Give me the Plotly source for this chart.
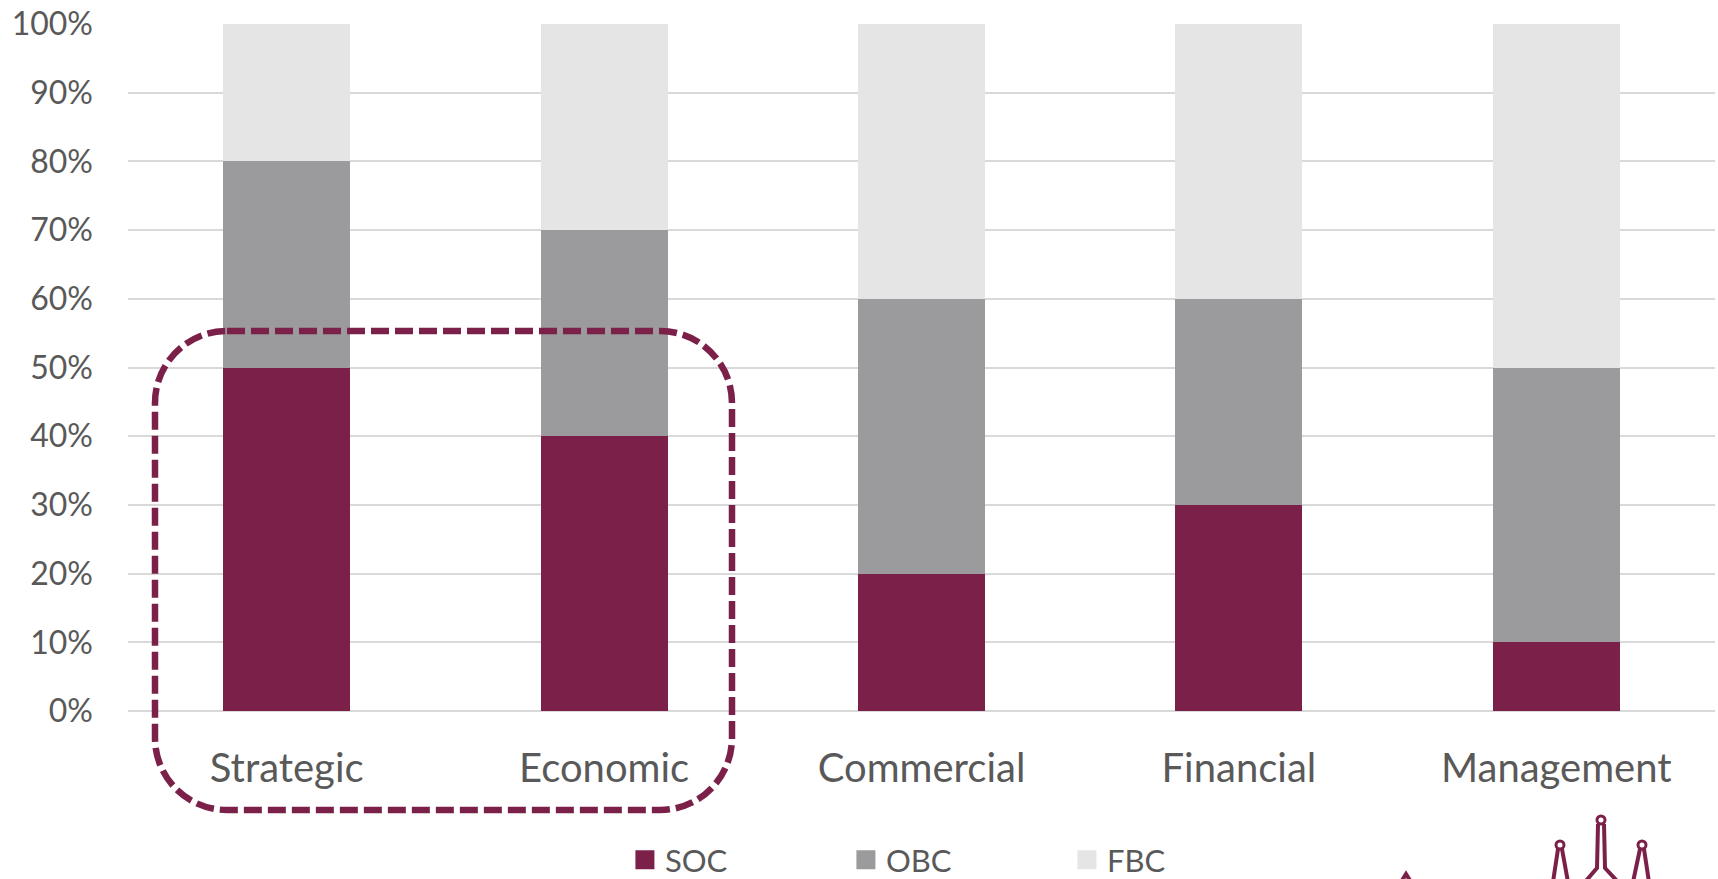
import plotly.graph_objects as go

categories = ["Strategic", "Economic", "Commercial", "Financial", "Management"]
soc = [0.50, 0.40, 0.20, 0.30, 0.10]
obc = [0.30, 0.30, 0.40, 0.30, 0.40]
fbc = [0.20, 0.30, 0.40, 0.40, 0.50]
series_names = ["SOC", "OBC", "FBC"]
tick_vals = [0, 0.1, 0.2, 0.3, 0.4, 0.5, 0.6, 0.7, 0.8, 0.9, 1.0]

colors = ["#7B2149", "#9B9B9D", "#E5E5E5"]
FONT = "Lato"
TEXT = "#595959"

W, H = 1718, 879
ML, MR, MT, MB = 128, 3, 24, 168
PW = W - ML - MR
PH = H - MT - MB


def px(x):
    return (x - ML) / PW


def py(y):
    return (H - MB - y) / PH


def P(x, y):
    return f"{px(x):.5f},{py(y):.5f}"


fig = go.Figure()
for name, vals, c in zip(series_names, [soc, obc, fbc], colors):
    fig.add_trace(go.Bar(x=categories, y=vals, name=name, marker=dict(color=c, line=dict(width=0)),
                         showlegend=False))
for name, c in zip(series_names, colors):
    fig.add_trace(go.Scatter(x=[None], y=[None], mode="markers", name=name,
                             marker=dict(symbol="square", size=16, color=c,
                                         line=dict(color=c, width=3))))

# dashed rounded rectangle highlight
x0, x1, y0, y1, r = 155, 732, 331, 810, 72
k = 0.5523 * r
rr = (f"M{P(x0 + r, y0)} L{P(x1 - r, y0)} C{P(x1 - r + k, y0)} {P(x1, y0 + r - k)} {P(x1, y0 + r)} "
      f"L{P(x1, y1 - r)} C{P(x1, y1 - r + k)} {P(x1 - r + k, y1)} {P(x1 - r, y1)} "
      f"L{P(x0 + r, y1)} C{P(x0 + r - k, y1)} {P(x0, y1 - r + k)} {P(x0, y1 - r)} "
      f"L{P(x0, y0 + r)} C{P(x0, y0 + r - k)} {P(x0 + r - k, y0)} {P(x0 + r, y0)} Z")
shapes = [dict(type="path", xref="paper", yref="paper", path=rr,
               line=dict(color="#7B2149", width=6.5, dash="18px,6px"), layer="above")]

# decorative logo (spires) at bottom right
logo_paths = [
    f"M{P(1598, 824)} L{P(1597, 868)} L{P(1585, 882)} M{P(1604, 824)} L{P(1605, 868)} L{P(1618, 882)}",
    f"M{P(1558, 849)} L{P(1553, 882)} M{P(1562, 849)} L{P(1568, 882)}",
    f"M{P(1640, 849)} L{P(1633, 882)} M{P(1644, 849)} L{P(1649, 882)}",
    f"M{P(1401, 882)} L{P(1406, 874)} L{P(1411, 882)}",
]
for p in logo_paths:
    shapes.append(dict(type="path", xref="paper", yref="paper", path=p,
                       line=dict(color="#7B2149", width=4)))
for cx, cy in [(1601, 820), (1560, 845), (1642, 845)]:
    shapes.append(dict(type="circle", xref="paper", yref="paper",
                       x0=px(cx - 4), x1=px(cx + 4), y0=py(cy + 4), y1=py(cy - 4),
                       line=dict(color="#7B2149", width=3)))

fig.update_layout(
    width=W, height=H,
    margin=dict(l=ML, r=MR, t=MT, b=MB, autoexpand=False),
    paper_bgcolor="white", plot_bgcolor="white",
    barmode="stack", bargap=0.6,
    font=dict(family=FONT, color=TEXT),
    shapes=shapes,
    legend=dict(orientation="h", x=0.522, xanchor="center", y=-0.217, yanchor="middle",
                traceorder="normal",
                font=dict(size=31, color=TEXT, family=FONT),
                entrywidth=176, entrywidthmode="pixels", itemwidth=30,
                bgcolor="rgba(0,0,0,0)"),
    xaxis=dict(showline=False, showgrid=False, zeroline=False, ticks="",
               tickfont=dict(size=40, color=TEXT, family=FONT), ticklabelstandoff=30,
               fixedrange=True),
    yaxis=dict(range=[0, 1], tickvals=tick_vals, tickformat=".0%", showgrid=True,
               gridcolor="#D9D9D9", gridwidth=2, zeroline=True, zerolinecolor="#D9D9D9",
               zerolinewidth=2, showline=False, ticks="",
               tickfont=dict(size=32, color=TEXT, family=FONT), ticklabelstandoff=34,
               fixedrange=True),
)

fig.write_html("out.html", config={"displayModeBar": False},
               post_script="document.body.style.margin='0';document.body.style.overflow='hidden';")
